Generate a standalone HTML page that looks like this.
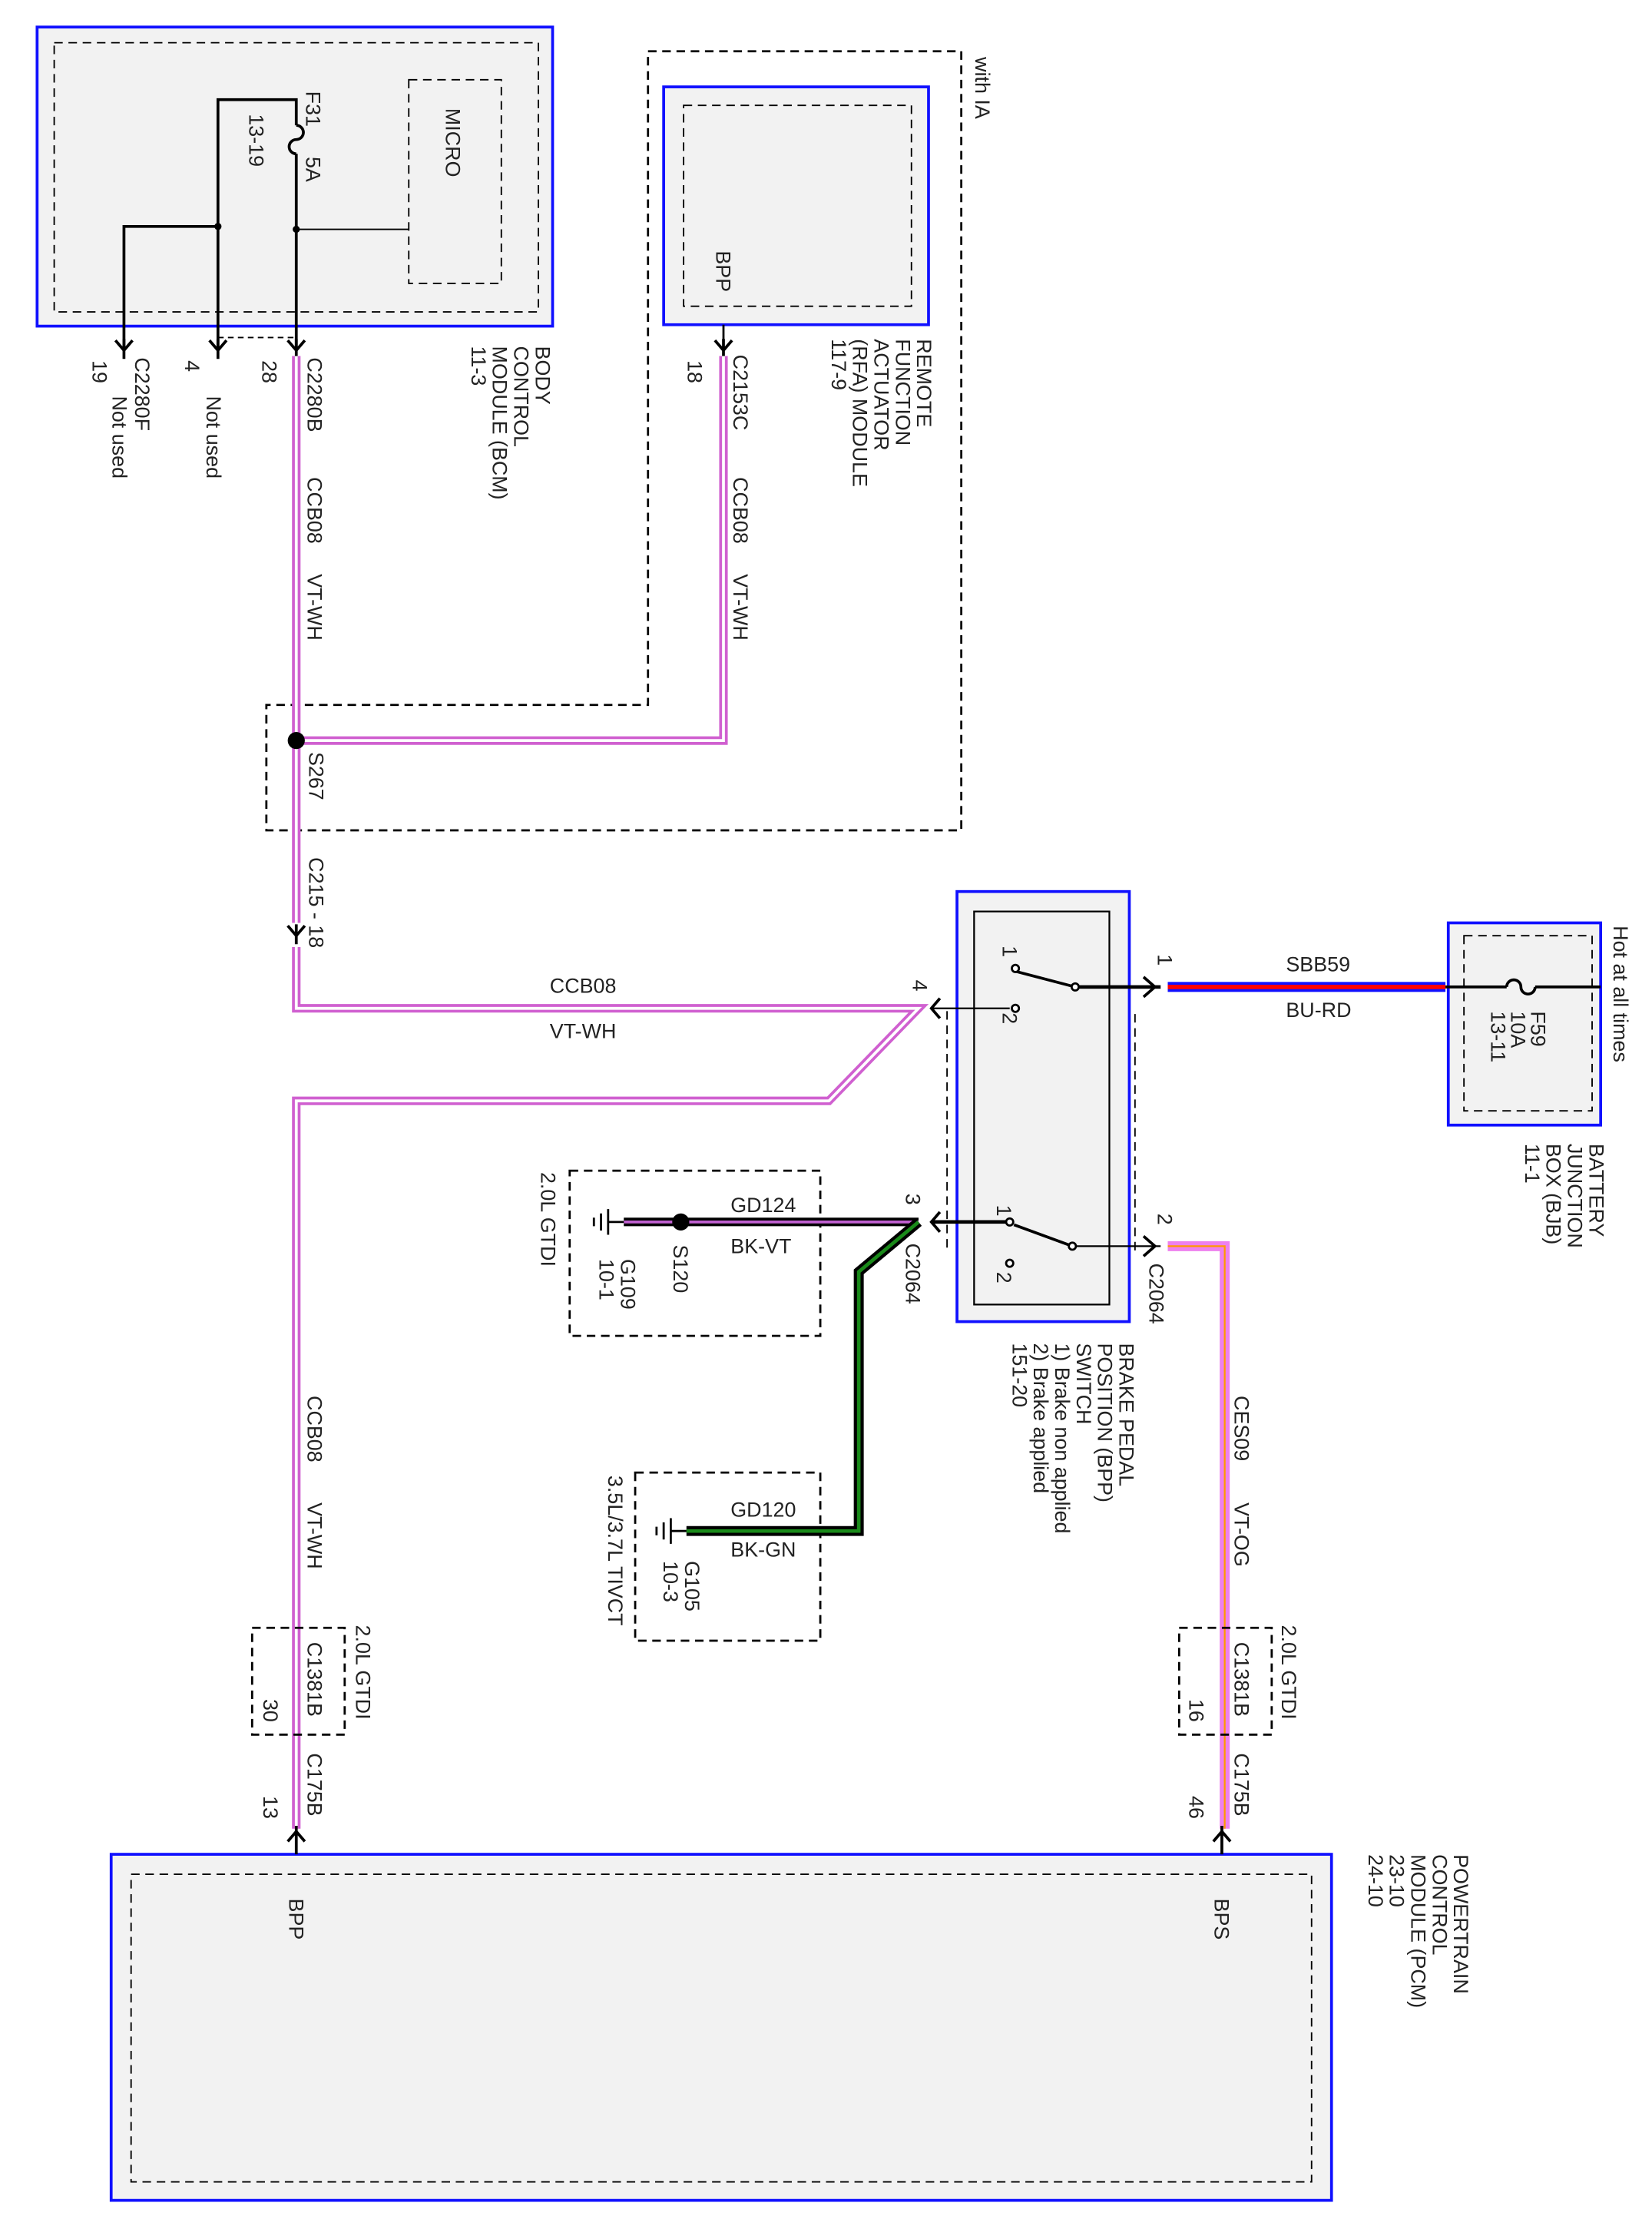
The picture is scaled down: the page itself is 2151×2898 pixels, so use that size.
<!DOCTYPE html>
<html><head><meta charset="utf-8"><style>
html,body{margin:0;padding:0;background:#fff}
svg{display:block}
text{font-family:"Liberation Sans",sans-serif;font-size:14.5px;fill:#222}
</style></head><body>
<svg width="2151" height="2898" viewBox="0 0 1160 1563" xmlns="http://www.w3.org/2000/svg">
<defs>
<g id="cd"><path d="M-6,-7 L0,0 L6,-7 M0,-8 L0,6" stroke="#000" stroke-width="2" fill="none"/></g>
</defs>
<!-- BCM -->
<rect x="26" y="19" width="362" height="210" fill="#f2f2f2" stroke="#1010ff" stroke-width="2"/>
<rect x="38" y="30" width="340" height="189" fill="none" stroke="#000" stroke-dasharray="6,4"/>
<rect x="287" y="56" width="65" height="143" fill="none" stroke="#000" stroke-dasharray="6,4"/>
<text transform="translate(313,76) rotate(90)">MICRO</text>
<g stroke="#000" stroke-width="2" fill="none">
<path d="M153,245 V70 H208 V88"/>
<path d="M208,88 a5,5 0 0 1 0,10 a5,5 0 0 0 0,10"/>
<path d="M208,108 V245"/>
<path d="M87,245 V159 H153"/>
</g>
<path d="M208,161 H287" stroke="#000" stroke-width="1"/>
<circle cx="153" cy="159" r="2.5"/><circle cx="208" cy="161" r="2.5"/>
<path d="M153,237 H208" stroke="#000" stroke-dasharray="4,3"/>
<use href="#cd" x="87" y="246"/><use href="#cd" x="153" y="246"/><use href="#cd" x="208" y="246"/>
<text transform="translate(215,64) rotate(90)">F31</text>
<text transform="translate(215,110) rotate(90)">5A</text>
<text transform="translate(175,80) rotate(90)">13-19</text>
<text transform="translate(65,253) rotate(90)">19</text>
<text transform="translate(95,251) rotate(90)">C2280F</text>
<text transform="translate(79,278) rotate(90)">Not used</text>
<text transform="translate(130,253) rotate(90)">4</text>
<text transform="translate(145,278) rotate(90)">Not used</text>
<text transform="translate(184,253) rotate(90)">28</text>
<text transform="translate(216,251) rotate(90)">C2280B</text>
<text transform="translate(216,335) rotate(90)">CCB08</text>
<text transform="translate(216,403) rotate(90)">VT-WH</text>
<text transform="translate(376,243) rotate(90)">BODY</text>
<text transform="translate(361,243) rotate(90)">CONTROL</text>
<text transform="translate(346,243) rotate(90)">MODULE (BCM)</text>
<text transform="translate(331,243) rotate(90)">11-3</text>
<!-- with IA dashed -->
<path d="M455,36 H675 V583 H187 V495 H455 Z" fill="none" stroke="#000" stroke-width="1.5" stroke-dasharray="6,4"/>
<text transform="translate(685,40) rotate(90)">with IA</text>
<!-- RFA -->
<rect x="466" y="61" width="186" height="167" fill="#f2f2f2" stroke="#1010ff" stroke-width="2"/>
<rect x="480" y="74" width="160" height="141" fill="none" stroke="#000" stroke-dasharray="6,4"/>
<text transform="translate(503,176) rotate(90)">BPP</text>
<path d="M508,228 V245" stroke="#000" stroke-width="1.5"/>
<use href="#cd" x="508" y="246"/>
<text transform="translate(483,253) rotate(90)">18</text>
<text transform="translate(515,249) rotate(90)">C2153C</text>
<text transform="translate(515,335) rotate(90)">CCB08</text>
<text transform="translate(515,403) rotate(90)">VT-WH</text>
<text transform="translate(644,238) rotate(90)">REMOTE</text>
<text transform="translate(629,238) rotate(90)">FUNCTION</text>
<text transform="translate(614,238) rotate(90)">ACTUATOR</text>
<text transform="translate(599,238) rotate(90)">(RFA) MODULE</text>
<text transform="translate(584,238) rotate(90)">117-9</text>
<!-- VT-WH wires -->
<g fill="none" stroke-linejoin="miter">
<path d="M208,250 V520 H508 V250 M208,520 V648 M208,665 V708 H645 L582,773 H208 V1284" stroke="#d060d0" stroke-width="6"/>
<path d="M208,250 V520 H508 V250 M208,520 V648 M208,665 V708 H645 L582,773 H208 V1284" stroke="#fff" stroke-width="2"/>
</g>
<circle cx="208" cy="520" r="6" fill="#000"/>
<text transform="translate(217,528) rotate(90)">S267</text>
<use href="#cd" x="208" y="657"/>
<text transform="translate(217,602) rotate(90)">C215 - 18</text>
<text x="386" y="697">CCB08</text>
<text x="386" y="729">VT-WH</text>
<!-- BPP switch -->
<rect x="672" y="626" width="121" height="302" fill="#f2f2f2" stroke="#1010ff" stroke-width="2"/>
<rect x="684" y="640" width="95" height="276" fill="none" stroke="#000" stroke-width="1.2"/>
<path d="M665,710 V880 M797,712 V878" stroke="#000" stroke-dasharray="6,4"/>
<g stroke="#000" fill="none">
<path d="M655,708 H709" stroke-width="1.2"/>
<path d="M660,701 L654,708 L660,715" stroke-width="2"/>
<path d="M713,682 L755,693" stroke-width="2"/>
<path d="M758,693 H815" stroke-width="2.5"/>
<path d="M803,686 L811,693 L803,700" stroke-width="2"/>
<path d="M655,858 H706" stroke-width="2.5"/>
<path d="M660,851 L654,858 L660,865" stroke-width="2"/>
<path d="M712,860 L753,875" stroke-width="2"/>
<path d="M756,875 H815" stroke-width="1.2"/>
<path d="M803,868 L811,875 L803,882" stroke-width="2"/>
</g>
<g fill="#fff" stroke="#000" stroke-width="1.5">
<circle cx="713" cy="680" r="2.5"/><circle cx="713" cy="708" r="2.5"/><circle cx="755" cy="693" r="2.5"/>
<circle cx="709" cy="858" r="2.5"/><circle cx="753" cy="875" r="2.5"/><circle cx="709" cy="887" r="2.5"/>
</g>
<text transform="translate(704,664) rotate(90)">1</text>
<text transform="translate(704,711) rotate(90)">2</text>
<text transform="translate(700,846) rotate(90)">1</text>
<text transform="translate(700,893) rotate(90)">2</text>
<text transform="translate(641,688) rotate(90)">4</text>
<text transform="translate(813,670) rotate(90)">1</text>
<text transform="translate(813,852) rotate(90)">2</text>
<text transform="translate(807,887) rotate(90)">C2064</text>
<text transform="translate(786,943) rotate(90)">BRAKE PEDAL</text>
<text transform="translate(771,943) rotate(90)">POSITION (BPP)</text>
<text transform="translate(756,943) rotate(90)">SWITCH</text>
<text transform="translate(741,943) rotate(90)">1) Brake non applied</text>
<text transform="translate(726,943) rotate(90)">2) Brake applied</text>
<text transform="translate(711,943) rotate(90)">151-20</text>
<!-- BU-RD -->
<path d="M820,693 H1015" stroke="#1010ff" stroke-width="7"/>
<path d="M820,693 H1015" stroke="#ff0000" stroke-width="3"/>
<text x="903" y="682">SBB59</text>
<text x="903" y="714">BU-RD</text>
<!-- BJB -->
<rect x="1017" y="648" width="107" height="142" fill="#f2f2f2" stroke="#1010ff" stroke-width="2"/>
<rect x="1028" y="657" width="90" height="123" fill="none" stroke="#000" stroke-dasharray="6,4"/>
<g stroke="#000" stroke-width="2" fill="none">
<path d="M1015,693 H1058 M1078,693 H1124"/>
<path d="M1058,693 a5,5 0 0 1 10,0 a5,5 0 0 0 10,0"/>
</g>
<text transform="translate(1075,710) rotate(90)">F59</text>
<text transform="translate(1061,710) rotate(90)">10A</text>
<text transform="translate(1047,710) rotate(90)">13-11</text>
<text transform="translate(1133,650) rotate(90)">Hot at all times</text>
<text transform="translate(1116,803) rotate(90)">BATTERY</text>
<text transform="translate(1101,803) rotate(90)">JUNCTION</text>
<text transform="translate(1086,803) rotate(90)">BOX (BJB)</text>
<text transform="translate(1071,803) rotate(90)">11-1</text>
<!-- VT-OG -->
<path d="M820,875 H860 V1284" fill="none" stroke="#ee80ee" stroke-width="7"/>
<path d="M820,875 H860 V1284" fill="none" stroke="#ff9900" stroke-width="1.2"/>
<text transform="translate(867,980) rotate(90)">CES09</text>
<text transform="translate(867,1055) rotate(90)">VT-OG</text>
<rect x="828" y="1143" width="65" height="75" fill="none" stroke="#000" stroke-width="1.5" stroke-dasharray="6,4"/>
<text transform="translate(867,1153) rotate(90)">C1381B</text>
<text transform="translate(835,1193) rotate(90)">16</text>
<text transform="translate(900,1141) rotate(90)">2.0L GTDI</text>
<text transform="translate(867,1231) rotate(90)">C175B</text>
<text transform="translate(835,1261) rotate(90)">46</text>
<!-- left lower -->
<text transform="translate(216,980) rotate(90)">CCB08</text>
<text transform="translate(216,1055) rotate(90)">VT-WH</text>
<rect x="177" y="1143" width="65" height="75" fill="none" stroke="#000" stroke-width="1.5" stroke-dasharray="6,4"/>
<text transform="translate(216,1153) rotate(90)">C1381B</text>
<text transform="translate(185,1193) rotate(90)">30</text>
<text transform="translate(250,1141) rotate(90)">2.0L GTDI</text>
<text transform="translate(216,1231) rotate(90)">C175B</text>
<text transform="translate(185,1261) rotate(90)">13</text>
<!-- BK-VT ground -->
<rect x="400" y="822" width="176" height="116" fill="none" stroke="#000" stroke-width="1.5" stroke-dasharray="6,4"/>
<path d="M645,858 H438" stroke="#000" stroke-width="6"/>
<path d="M645,858 H438" stroke="#c060d0" stroke-width="2"/>
<circle cx="478" cy="858" r="6" fill="#000"/>
<g stroke="#000" stroke-width="1.5"><path d="M427,849 V867 M422,852 V864 M417,855 V861 M427,858 H438"/></g>
<text x="513" y="851">GD124</text>
<text x="513" y="880">BK-VT</text>
<text transform="translate(473,874) rotate(90)">S120</text>
<text transform="translate(436,884) rotate(90)">G109</text>
<text transform="translate(421,884) rotate(90)">10-1</text>
<text transform="translate(380,823) rotate(90)">2.0L GTDI</text>
<text transform="translate(636,838) rotate(90)">3</text>
<text transform="translate(636,873) rotate(90)">C2064</text>
<!-- BK-GN -->
<rect x="446" y="1034" width="130" height="118" fill="none" stroke="#000" stroke-width="1.5" stroke-dasharray="6,4"/>
<path d="M645,858 L603,893 V1075 H482" fill="none" stroke="#000" stroke-width="7"/>
<path d="M645,858 L603,893 V1075 H482" fill="none" stroke="#1a8a1a" stroke-width="2.5"/>
<g stroke="#000" stroke-width="1.5"><path d="M471,1066 V1084 M466,1069 V1081 M461,1072 V1078 M471,1075 H482"/></g>
<text x="513" y="1065">GD120</text>
<text x="513" y="1093">BK-GN</text>
<text transform="translate(481,1096) rotate(90)">G105</text>
<text transform="translate(466,1096) rotate(90)">10-3</text>
<text transform="translate(427,1036) rotate(90)">3.5L/3.7L TIVCT</text>
<!-- PCM -->
<rect x="78" y="1302" width="857" height="243" fill="#f2f2f2" stroke="#1010ff" stroke-width="2"/>
<rect x="92" y="1316" width="829" height="216" fill="none" stroke="#000" stroke-dasharray="6,4"/>
<g stroke="#000" stroke-width="2" fill="none">
<path d="M208,1282 V1302 M202,1293 L208,1286 L214,1293"/>
<path d="M858,1282 V1302 M852,1293 L858,1286 L864,1293"/>
</g>
<text transform="translate(203,1333) rotate(90)">BPP</text>
<text transform="translate(853,1333) rotate(90)">BPS</text>
<text transform="translate(1021,1302) rotate(90)">POWERTRAIN</text>
<text transform="translate(1006,1302) rotate(90)">CONTROL</text>
<text transform="translate(991,1302) rotate(90)">MODULE (PCM)</text>
<text transform="translate(976,1302) rotate(90)">23-10</text>
<text transform="translate(961,1302) rotate(90)">24-10</text>
</svg>
</body></html>
